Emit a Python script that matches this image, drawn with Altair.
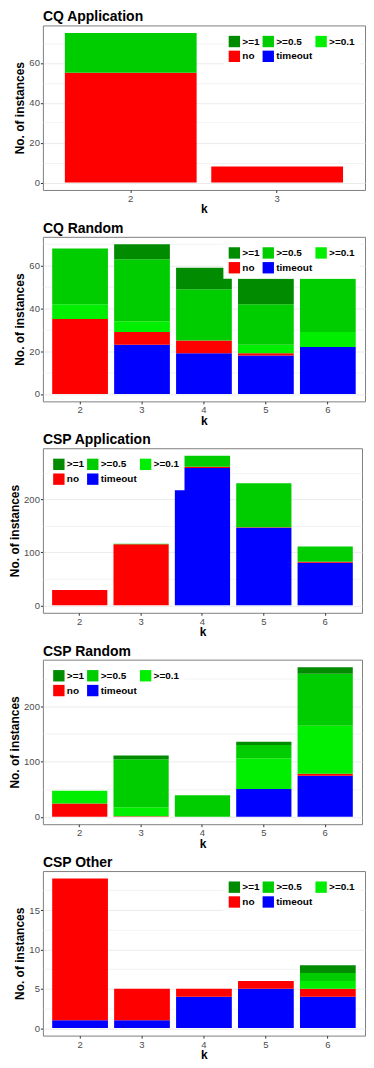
import altair as alt
import pandas as pd

# stacking order, bottom to top
CATS = ["timeout", "no", ">=0.1", ">=0.5", ">=1"]
LEGEND_ORDER = [">=1", ">=0.5", ">=0.1", "no", "timeout"]
LEGEND_COLORS = ["#008B00", "#00CD00", "#00EE00", "#FF0000", "#0000FF"]

# ---- CQ Application ----
CQ_APP_K = [2, 3]
CQ_APP_TIMEOUT = [0, 0]
CQ_APP_NO = [55, 8]
CQ_APP_G01 = [0, 0]
CQ_APP_G05 = [20, 0]
CQ_APP_G1 = [0, 0]

# ---- CQ Random ----
CQ_RND_K = [2, 3, 4, 5, 6]
CQ_RND_TIMEOUT = [0, 23, 19, 18, 22]
CQ_RND_NO = [35, 6, 6, 1, 0]
CQ_RND_G01 = [7, 5, 0, 4, 7]
CQ_RND_G05 = [26, 29, 24, 19, 25]
CQ_RND_G1 = [0, 7, 10, 12, 0]

# ---- CSP Application ----
CSP_APP_K = [2, 3, 4, 5, 6]
CSP_APP_TIMEOUT = [0, 0, 259, 146, 80]
CSP_APP_NO = [29, 115, 2, 1, 2]
CSP_APP_G01 = [0, 0, 0, 0, 0]
CSP_APP_G05 = [0, 1, 21, 83, 29]
CSP_APP_G1 = [0, 0, 0, 0, 0]

# ---- CSP Random ----
CSP_RND_K = [2, 3, 4, 5, 6]
CSP_RND_TIMEOUT = [0, 0, 0, 50, 74]
CSP_RND_NO = [24, 1, 0, 0, 4]
CSP_RND_G01 = [23, 16, 0, 56, 87]
CSP_RND_G05 = [0, 87, 39, 24, 94]
CSP_RND_G1 = [0, 7, 0, 6, 12]

# ---- CSP Other ----
CSP_OTH_K = [2, 3, 4, 5, 6]
CSP_OTH_TIMEOUT = [1, 1, 4, 5, 4]
CSP_OTH_NO = [18, 4, 1, 1, 1]
CSP_OTH_G01 = [0, 0, 0, 0, 1]
CSP_OTH_G05 = [0, 0, 0, 0, 1]
CSP_OTH_G1 = [0, 0, 0, 0, 1]

FONT = "Liberation Sans"


def panel(title, ks, series, major, orient, width, height=165):
    rows = []
    for rank, cat in enumerate(CATS):
        for k, v in zip(ks, series[cat]):
            rows.append({"k": k, "cat": cat, "rank": rank, "n": v})
    df = pd.DataFrame(rows)
    totals = [sum(series[c][i] for c in CATS) for i in range(len(ks))]
    top = max(totals)
    dom = [-0.05 * top, 1.05 * top]
    minor = major / 2
    vals = []
    i = 0
    while i * minor <= dom[1]:
        vals.append(i * minor)
        i += 1
    test = f"datum.value % {major} === 0"
    return (
        alt.Chart(
            df,
            title=alt.TitleParams(
                title, anchor="start", frame="group", fontSize=14,
                fontWeight="bold", font=FONT, color="black", offset=1,
            ),
        )
        .mark_bar()
        .encode(
            x=alt.X(
                "k:O", title="k",
                scale=alt.Scale(paddingInner=0.1, paddingOuter=0.15),
                axis=alt.Axis(labelAngle=0, tickColor="#333333", titlePadding=1),
            ),
            y=alt.Y(
                "n:Q", stack="zero", title="No. of instances",
                scale=alt.Scale(domain=dom, nice=False, zero=False),
                axis=alt.Axis(
                    values=vals,
                    labelExpr=f"{test} ? datum.label : ''",
                    tickColor={"condition": {"test": test, "value": "#333333"}, "value": "transparent"},
                    gridWidth={"condition": {"test": test, "value": 1}, "value": 0.6},
                ),
            ),
            color=alt.Color(
                "cat:N", title=None,
                scale=alt.Scale(domain=LEGEND_ORDER, range=LEGEND_COLORS),
                legend=alt.Legend(
                    orient=orient, offset=5, padding=5, fillColor="white",
                    columns=3, direction="horizontal",
                    symbolType="square", symbolSize=130,
                    symbolStrokeWidth=0, symbolOpacity=1,
                    labelFont=FONT, labelFontSize=10, labelFontWeight="bold",
                    labelColor="black", rowPadding=3, columnPadding=2,
                    labelOffset=2,
                ),
            ),
            order=alt.Order("rank:Q", sort="ascending"),
        )
        .properties(width=width, height=height)
    )


def series(t, no, g01, g05, g1):
    return {"timeout": t, "no": no, ">=0.1": g01, ">=0.5": g05, ">=1": g1}


W_NARROW_LABELS = 323
W_WIDE_LABELS = 320

p1 = panel("CQ Application", CQ_APP_K,
           series(CQ_APP_TIMEOUT, CQ_APP_NO, CQ_APP_G01, CQ_APP_G05, CQ_APP_G1),
           20, "top-right", W_NARROW_LABELS)
p2 = panel("CQ Random", CQ_RND_K,
           series(CQ_RND_TIMEOUT, CQ_RND_NO, CQ_RND_G01, CQ_RND_G05, CQ_RND_G1),
           20, "top-right", W_NARROW_LABELS)
p3 = panel("CSP Application", CSP_APP_K,
           series(CSP_APP_TIMEOUT, CSP_APP_NO, CSP_APP_G01, CSP_APP_G05, CSP_APP_G1),
           100, "top-left", W_WIDE_LABELS)
p4 = panel("CSP Random", CSP_RND_K,
           series(CSP_RND_TIMEOUT, CSP_RND_NO, CSP_RND_G01, CSP_RND_G05, CSP_RND_G1),
           100, "top-left", W_WIDE_LABELS)
p5 = panel("CSP Other", CSP_OTH_K,
           series(CSP_OTH_TIMEOUT, CSP_OTH_NO, CSP_OTH_G01, CSP_OTH_G05, CSP_OTH_G1),
           5, "top-right", W_NARROW_LABELS)

chart = (
    alt.concat(p1, p2, p3, p4, p5, columns=1, spacing=5, align="none")
    .resolve_scale(color="independent", x="independent", y="independent")
    .resolve_legend(color="independent")
    .properties(padding={"left": 0, "top": 0, "right": 0, "bottom": 0})
    .configure_view(stroke="#7f7f7f", strokeWidth=1)
    .configure_axis(
        labelFont=FONT, labelFontSize=9.5, labelColor="#4d4d4d",
        titleFont=FONT, titleFontSize=12, titleFontWeight="bold", titleColor="black",
        gridColor="#EBEBEB", domain=False, tickSize=2.5, labelPadding=1,
        titlePadding=2,
    )
)

chart.save("out.html", embed_options={"renderer": "svg", "actions": False})
